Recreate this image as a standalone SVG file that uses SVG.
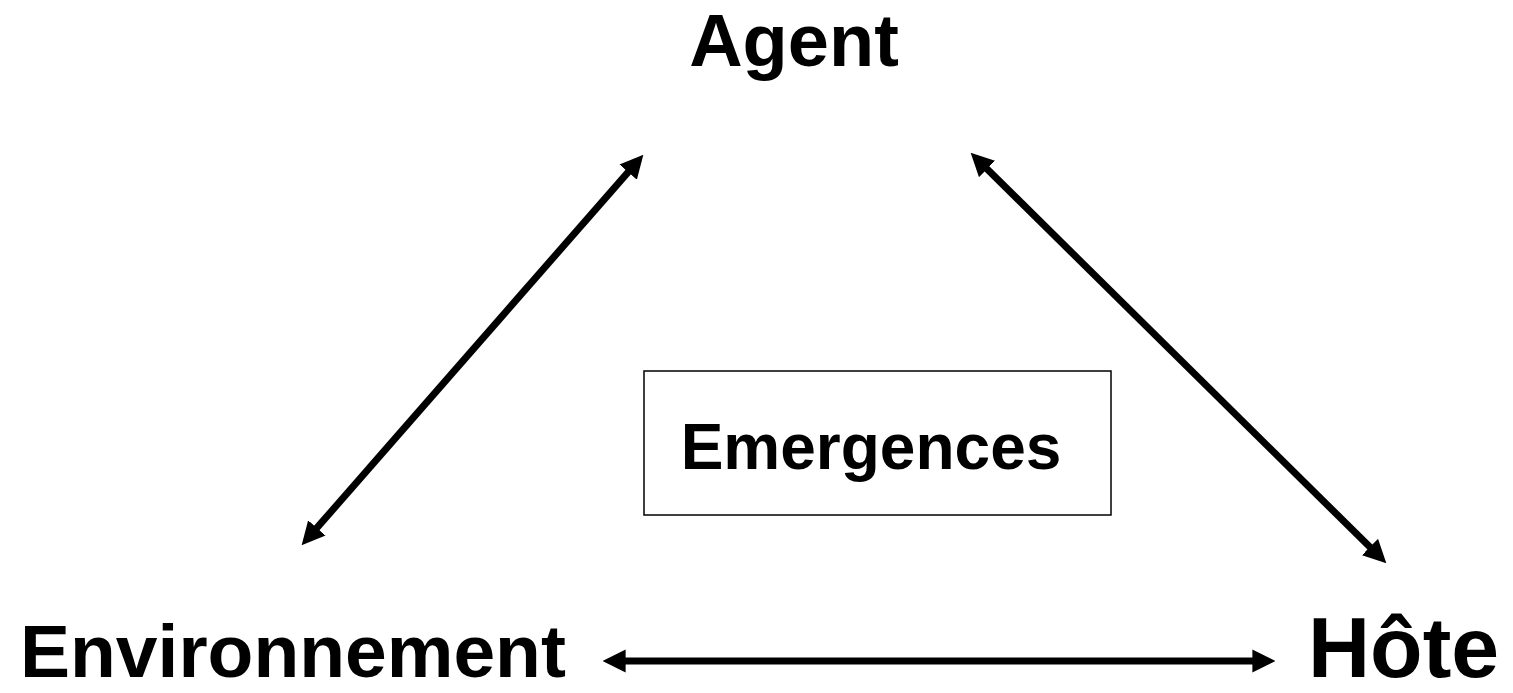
<svg xmlns="http://www.w3.org/2000/svg" width="1513" height="693" viewBox="0 0 1513 693">
<style>
.lbl{font-family:"Liberation Sans",Arial,sans-serif;font-weight:bold;fill:#000;}
.con{stroke:#000;stroke-width:7;fill:none;}
</style>
<defs>
<marker id="ah" viewBox="0 0 10 10" refX="2" refY="5" markerWidth="3.3" markerHeight="3.3" markerUnits="strokeWidth" orient="auto-start-reverse">
<path d="M0,0 L10,5 L0,10 z" fill="#000"/>
</marker>
</defs>
<rect width="1513" height="693" fill="#fff"/>
<g id="connectors">
<line class="con" x1="313.8" y1="531.4" x2="631.2" y2="168.6" marker-start="url(#ah)" marker-end="url(#ah)"/>
<line class="con" x1="983.8" y1="165.7" x2="1373.2" y2="550.3" marker-start="url(#ah)" marker-end="url(#ah)"/>
<line class="con" x1="621" y1="661" x2="1257" y2="661" marker-start="url(#ah)" marker-end="url(#ah)"/>
</g>
<g id="agent"><text class="lbl" x="794" y="66" font-size="74" text-anchor="middle">Agent</text></g>
<g id="environnement"><text class="lbl" x="20" y="677" font-size="75">Environnement</text></g>
<g id="hote"><text class="lbl" x="1308" y="677" font-size="86">Hôte</text></g>
<g id="emergences">
<rect x="644" y="371" width="467" height="144" fill="none" stroke="#000" stroke-width="1.5"/>
<text class="lbl" x="871" y="469" font-size="64" text-anchor="middle">Emergences</text>
</g>
</svg>
